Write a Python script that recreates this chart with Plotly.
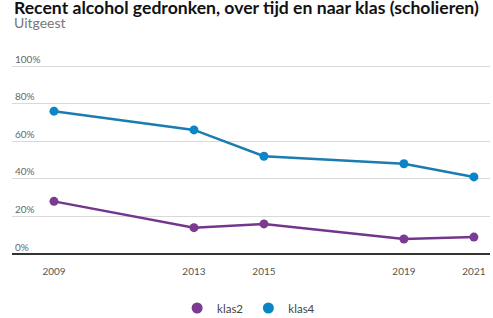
import plotly.graph_objects as go

years = [2009, 2013, 2015, 2019, 2021]
klas2 = [28, 14, 16, 8, 9]
klas4 = [76, 66, 52, 48, 41]
y_ticks = [0, 20, 40, 60, 80, 100]
y_labels = ["0%", "20%", "40%", "60%", "80%", "100%"]

W, H = 493, 318
ML, MR, MT, MB = 12, 3, 51, 64
PH = H - MT - MB

def py(pix):
    return 1 - (pix - MT) / PH

FONT = "Lato"
C2_LINE, C2_MARK = "#74368c", "#7a3b91"
C4_LINE, C4_MARK = "#1a7cb0", "#0a86c8"

fig = go.Figure()
fig.add_trace(go.Scatter(x=years, y=klas2, name="klas2", mode="lines+markers",
                         line=dict(color=C2_LINE, width=2.5),
                         marker=dict(color=C2_MARK, size=9), showlegend=False))
fig.add_trace(go.Scatter(x=years, y=klas4, name="klas4", mode="lines+markers",
                         line=dict(color=C4_LINE, width=2.5),
                         marker=dict(color=C4_MARK, size=9), showlegend=False))
# legend entries (marker only)
fig.add_trace(go.Scatter(x=[None], y=[None], name="klas2", mode="markers",
                         marker=dict(color=C2_MARK, size=11)))
fig.add_trace(go.Scatter(x=[None], y=[None], name="klas4", mode="markers",
                         marker=dict(color=C4_MARK, size=11)))

fig.update_layout(
    width=W, height=H,
    margin=dict(l=ML, r=MR, t=MT, b=MB, autoexpand=False),
    paper_bgcolor="white", plot_bgcolor="white",
    font=dict(family=FONT, color="#666666", size=10),
    showlegend=True,
    legend=dict(orientation="h", x=0.495, xanchor="center", y=py(308), yanchor="middle",
                font=dict(size=11.5, color="#444444"), itemwidth=30),
    xaxis=dict(range=[2007.8, 2021.46], tickvals=years, ticktext=[str(y) for y in years],
               showgrid=False, zeroline=False, showline=False, ticks="",
               ticklabelstandoff=10,
               tickfont=dict(size=10, color="#555555")),
    yaxis=dict(range=[0, 108], tickvals=y_ticks, ticktext=y_labels,
               ticklabelposition="inside top", showgrid=True, gridcolor="#d9d9d9",
               gridwidth=1, zeroline=True, zerolinecolor="#333333", zerolinewidth=1.5,
               tickfont=dict(size=10, color="#666666"), showline=False),
    annotations=[
        dict(text="<b>Recent alcohol gedronken, over tijd en naar klas (scholieren)</b>",
             xref="paper", yref="paper", x=0, xanchor="left",
             y=py(7), yanchor="middle", showarrow=False,
             font=dict(family=FONT, size=17.6, color="#111111")),
        dict(text="Uitgeest", xref="paper", yref="paper", x=0, xanchor="left",
             y=py(23), yanchor="middle", showarrow=False,
             font=dict(family=FONT, size=14, color="#777777")),
    ],
)

fig.write_html("out.html", config={"displayModeBar": False},
               post_script="document.body.style.margin='0';document.body.style.overflow='hidden';")
